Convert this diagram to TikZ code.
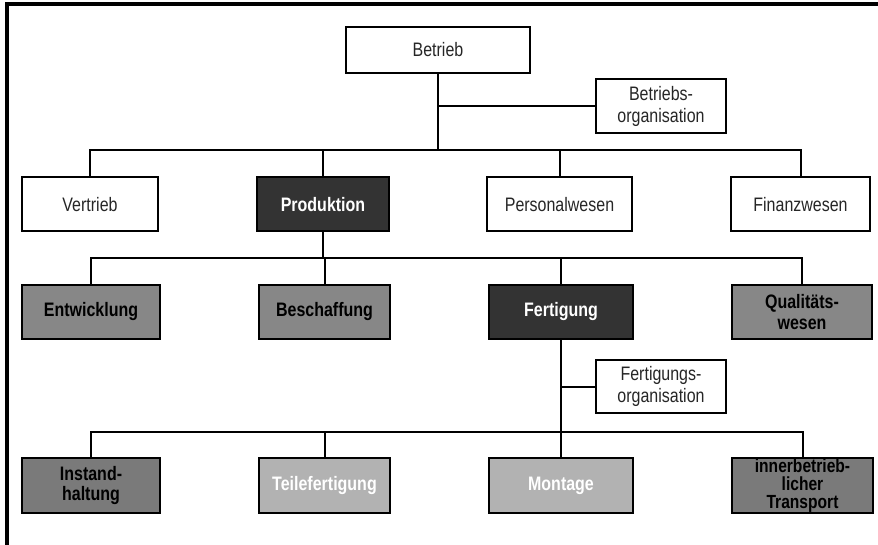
\documentclass[tikz,border=0pt]{standalone}
\usepackage{fontspec}
\setmainfont[FakeStretch=0.82]{Liberation Sans}
\begin{document}
\begin{tikzpicture}[x=1pt,y=-1pt,
  box/.style={draw, line width=2pt, align=center, inner sep=0pt, minimum height=54, text=black!85,
    font=\fontsize{19.5}{22}\selectfont},
  plain/.style={box, fill=white},
  darkbox/.style={box, fill=black!80, text=white, font=\fontsize{19.5}{21}\selectfont\bfseries},
  midbox/.style={box, fill=black!47, text=black, font=\fontsize{19.5}{21}\selectfont\bfseries},
  deepbox/.style={box, fill=black!52, text=black, font=\fontsize{19.5}{20}\selectfont\bfseries},
  lightbox/.style={box, fill=black!30, text=white, font=\fontsize{19.5}{21}\selectfont\bfseries},
  conn/.style={line width=2pt}]
\useasboundingbox (0,0) rectangle (878,545);
\draw[line width=3.5pt] (7,545) -- (7,4) -- (878,4);

\node[plain, minimum width=184, minimum height=46] (betrieb) at (438,50) {Betrieb};
\node[plain, minimum width=130] (borg) at (661,106) {Betriebs-\\organisation};

\node[plain, minimum width=136] (vertrieb) at (90,204.5) {Vertrieb};
\node[darkbox, minimum width=132] (produktion) at (323,204.5) {Produktion};
\node[plain, minimum width=145] (personal) at (559.5,204.5) {Personalwesen};
\node[plain, minimum width=139] (finanz) at (800.5,204.5) {Finanzwesen};

\node[midbox, minimum width=138] (entw) at (91,312) {Entwicklung};
\node[midbox, minimum width=131] (beschaffung) at (324.5,312) {Beschaffung};
\node[darkbox, minimum width=144] (fertigung) at (561,312) {Fertigung};
\node[midbox, minimum width=140] (qualitaet) at (802,312) {Qualitäts-\\wesen};

\node[plain, minimum width=130, minimum height=53] (forg) at (661,386.5) {Fertigungs-\\organisation};

\node[deepbox, minimum width=138, minimum height=55] (instand) at (91,485.5) {Instand-\\haltung};
\node[lightbox, minimum width=131, minimum height=55] (teile) at (324.5,485.5) {Teilefertigung};
\node[lightbox, minimum width=144, minimum height=55] (montage) at (561,485.5) {Montage};
\node[deepbox, minimum width=141, minimum height=55, font=\fontsize{19}{18}\selectfont\bfseries] (transport) at (802.5,485.5) {innerbetrieb-\\licher\\Transport};

\coordinate (bus1) at (438,150);
\coordinate (bus2) at (323,258);
\coordinate (bus3) at (561,432);

\draw[conn] (betrieb.south) -- (bus1);
\draw[conn] (borg.west) -- (borg.west -| bus1);
\draw[conn] (vertrieb.north) |- (bus1) -| (finanz.north);
\draw[conn] (produktion.north) -- (produktion.north |- bus1);
\draw[conn] (personal.north) -- (personal.north |- bus1);

\draw[conn] (produktion.south) -- (bus2);
\draw[conn] (entw.north) |- (bus2) -| (qualitaet.north);
\draw[conn] (beschaffung.north) -- (beschaffung.north |- bus2);
\draw[conn] (fertigung.north) -- (fertigung.north |- bus2);

\draw[conn] (fertigung.south) -- (montage.north);
\draw[conn] (forg.west) -- (forg.west -| bus3);
\draw[conn] (instand.north) |- (bus3) -| (transport.north);
\draw[conn] (teile.north) -- (teile.north |- bus3);
\end{tikzpicture}
\end{document}
